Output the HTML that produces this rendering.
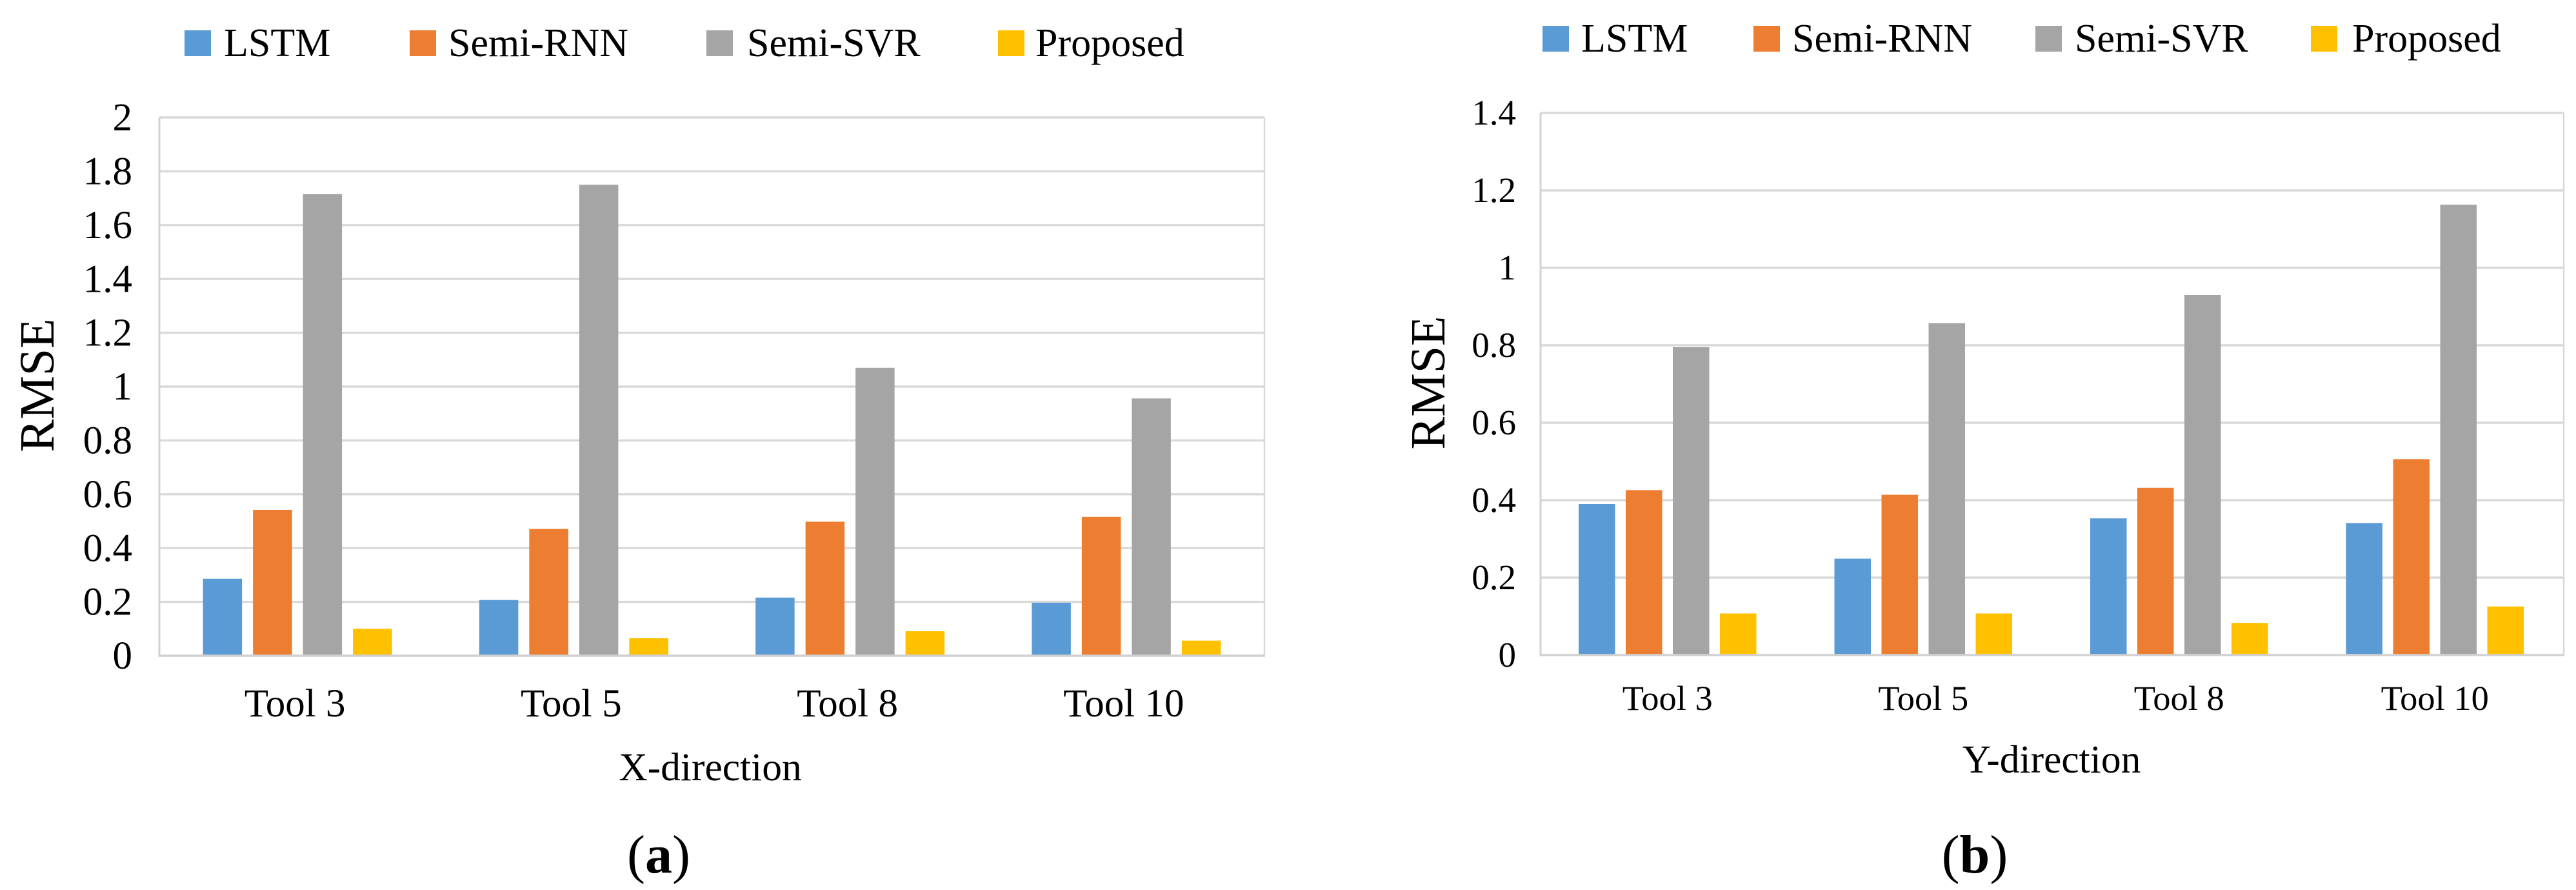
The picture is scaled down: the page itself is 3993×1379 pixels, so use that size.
<!DOCTYPE html>
<html>
<head>
<meta charset="utf-8">
<title>RMSE comparison by direction</title>
<style>
html,body{margin:0;padding:0;background:#fff;width:3993px;height:1379px;overflow:hidden}
svg{display:block}
text{font-family:"Liberation Serif",serif;fill:#000}
</style>
</head>
<body>
<svg id="figure" xmlns="http://www.w3.org/2000/svg" width="3993" height="1379" viewBox="0 0 3993 1379"></svg>
<script>
const categories = ["Tool 3", "Tool 5", "Tool 8", "Tool 10"];
const seriesNames = ["LSTM", "Semi-RNN", "Semi-SVR", "Proposed"];
const seriesColors = ["#5B9BD5", "#ED7D31", "#A5A5A5", "#FFC000"];

const xLstm = [0.286, 0.207, 0.216, 0.197];
const xSemiRnn = [0.542, 0.471, 0.498, 0.516];
const xSemiSvr = [1.715, 1.75, 1.07, 0.956];
const xProposed = [0.10, 0.065, 0.091, 0.056];
const xTicks = ["0", "0.2", "0.4", "0.6", "0.8", "1", "1.2", "1.4", "1.6", "1.8", "2"];

const yLstm = [0.39, 0.249, 0.353, 0.341];
const ySemiRnn = [0.426, 0.414, 0.432, 0.506];
const ySemiSvr = [0.795, 0.857, 0.93, 1.163];
const yProposed = [0.1075, 0.1075, 0.083, 0.1255];
const yTicks = ["0", "0.2", "0.4", "0.6", "0.8", "1", "1.2", "1.4"];

const svg = document.getElementById("figure");
const NS = "http://www.w3.org/2000/svg";

function make(tag, attrs, text) {
  const el = document.createElementNS(NS, tag);
  for (const k in attrs) el.setAttribute(k, attrs[k]);
  if (text !== undefined) el.textContent = text;
  svg.appendChild(el);
  return el;
}

function drawPanel(p, series, ticks, xTitle, tag) {
  const maxV = parseFloat(ticks[ticks.length - 1]);
  const yOf = v => p.bottom - (v / maxV) * (p.bottom - p.top);
  const groupW = (p.right - p.left) / categories.length;
  const xOf = i => p.left + groupW * (i + 0.5) + p.groupShift;

  // gridlines and tick labels
  ticks.forEach(t => {
    const v = parseFloat(t);
    const gy = yOf(v);
    if (v !== 0) {
      const grid = make("line", {x1: p.left, x2: p.right, y1: gy, y2: gy, stroke: "#D9D9D9", "stroke-width": 3.4});
      
      
    }
    const lab = make("text", {x: p.tickRight, y: gy + p.tickFs * 0.33, "text-anchor": "end", "font-size": p.tickFs}, t);
    
    
  });

  // plot frame sides
  const frameL = make("line", {x1: p.left, x2: p.left, y1: p.top, y2: p.bottom, stroke: "#D2D2D2", "stroke-width": 3});
  
  
  const frameR = make("line", {x1: p.right, x2: p.right, y1: p.top, y2: p.bottom, stroke: "#D9D9D9", "stroke-width": 2.5});
  
  

  // bars
  const step = p.barW + p.barGap;
  const span = p.barW * series.length + p.barGap * (series.length - 1);
  series.forEach((vals, s) => {
    vals.forEach((v, i) => {
      const bx = xOf(i) - span / 2 + s * step;
      const by = yOf(v);
      const bar = make("rect", {x: bx, y: by, width: p.barW, height: p.bottom - by, fill: seriesColors[s]});
      
      
    });
  });

  // x axis
  const axis = make("line", {x1: p.left - 1.5, x2: p.right + 1, y1: p.bottom, y2: p.bottom, stroke: "#D0D0D0", "stroke-width": 3.6});
  
  

  categories.forEach((c, i) => {
    const lab = make("text", {x: xOf(i) + p.catShift, y: p.catBase, "text-anchor": "middle", "font-size": p.catFs}, c);
    
    
  });

  const title = make("text", {x: p.xTitleX, y: p.xTitleBase, "text-anchor": "middle", "font-size": 61.5}, xTitle);
  
  

  const yTitle = make("text", {transform: "translate(" + p.yTitleX + "," + p.yTitleY + ") rotate(-90)", "text-anchor": "middle", "font-size": 76}, "RMSE");
  
  

  // legend
  seriesNames.forEach((n, s) => {
    const sw = make("rect", {x: p.legendSwatch[s], y: p.legendBase - 40, width: 41, height: 40, fill: seriesColors[s]});
    
    
    const lt = make("text", {x: p.legendText[s], y: p.legendBase, "font-size": 62}, n);
    
    
  });
}

function drawCaption(letter, cx, base, tag) {
  const cap = make("text", {x: cx, y: base, "text-anchor": "middle", "font-size": 84});
  
  
  const open = document.createElementNS(NS, "tspan");
  open.textContent = "(";
  const mid = document.createElementNS(NS, "tspan");
  mid.setAttribute("font-weight", "bold");
  mid.textContent = letter;
  const close = document.createElementNS(NS, "tspan");
  close.textContent = ")";
  cap.appendChild(open);
  cap.appendChild(mid);
  cap.appendChild(close);
}

drawPanel({
  left: 247, right: 1960, top: 182, bottom: 1016,
  barW: 60.5, barGap: 17, groupShift: 0, catShift: -4,
  tickRight: 205, tickFs: 61, catFs: 61, catBase: 1110,
  xTitleX: 1101, xTitleBase: 1209, yTitleX: 83, yTitleY: 597,
  legendBase: 87,
  legendSwatch: [286, 635, 1095, 1547],
  legendText: [347, 695, 1158, 1605]
}, [xLstm, xSemiRnn, xSemiSvr, xProposed], xTicks, "X-direction", "panel-a");

drawPanel({
  left: 2388, right: 3974, top: 175, bottom: 1015,
  barW: 56.5, barGap: 16.5, groupShift: -1.5, catShift: 0,
  tickRight: 2350, tickFs: 55, catFs: 54.5, catBase: 1100,
  xTitleX: 3180, xTitleBase: 1197, yTitleX: 2239, yTitleY: 593,
  legendBase: 80,
  legendSwatch: [2391, 2718, 3155, 3582],
  legendText: [2451, 2778, 3216, 3646]
}, [yLstm, ySemiRnn, ySemiSvr, yProposed], yTicks, "Y-direction", "panel-b");

drawCaption("a", 1021, 1352, "panel-a");
drawCaption("b", 3061, 1352, "panel-b");
</script>
</body>
</html>
